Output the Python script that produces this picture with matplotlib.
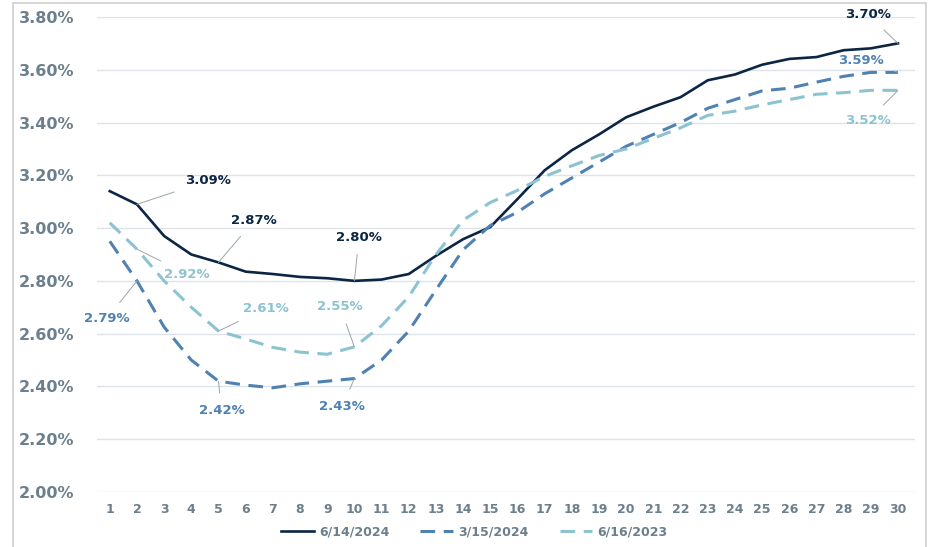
import matplotlib
matplotlib.use("Agg")
import matplotlib.pyplot as plt
from matplotlib.patches import Rectangle

# data (values in %)
maturities = list(range(1, 31))
jun_2024 = [3.14, 3.09, 2.97, 2.90, 2.87, 2.835, 2.826, 2.815, 2.81, 2.80,
            2.805, 2.826, 2.895, 2.958, 3.004, 3.11, 3.219, 3.295, 3.355, 3.42,
            3.46, 3.496, 3.56, 3.582, 3.619, 3.641, 3.648, 3.674, 3.681, 3.70]
mar_2024 = [2.95, 2.80, 2.625, 2.50, 2.42, 2.405, 2.395, 2.41, 2.42, 2.43,
            2.50, 2.61, 2.766, 2.918, 3.01, 3.06, 3.13, 3.19, 3.25, 3.31,
            3.355, 3.40, 3.454, 3.487, 3.52, 3.53, 3.553, 3.575, 3.59, 3.59]
jun_2023 = [3.02, 2.92, 2.80, 2.70, 2.61, 2.58, 2.548, 2.53, 2.522, 2.55,
            2.63, 2.74, 2.90, 3.03, 3.097, 3.143, 3.196, 3.236, 3.275, 3.30,
            3.34, 3.38, 3.427, 3.443, 3.467, 3.487, 3.507, 3.513, 3.522, 3.522]
series_names = ["6/14/2024", "3/15/2024", "6/16/2023"]
y_ticks = [2.0, 2.2, 2.4, 2.6, 2.8, 3.0, 3.2, 3.4, 3.6, 3.8]

NAVY = "#0b2545"
BLUE = "#4f81b3"
TEAL = "#8cc3d0"
GREY = "#6b7f8c"
LEADER = "#9aa5ad"

plt.rcParams["font.family"] = ["DejaVu Sans"]

fig = plt.figure(figsize=(9.3, 5.47), dpi=100)
ax = fig.add_axes([0.104, 0.1005, 0.88, 0.8685])

ax.plot(maturities, jun_2024, color=NAVY, lw=1.9, label=series_names[0])
ax.plot(maturities, mar_2024, color=BLUE, lw=2.2, dashes=(4.8, 2.8), label=series_names[1])
ax.plot(maturities, jun_2023, color=TEAL, lw=2.2, dashes=(4.8, 2.8), label=series_names[2])

ax.set_xlim(0.52, 30.63)
ax.set_ylim(2.0, 3.8)
ax.set_xticks(maturities)
ax.set_yticks(y_ticks)
ax.set_yticklabels([f"{v:.2f}%" for v in y_ticks])
ax.grid(axis="y", color="#dde3e8", lw=1.0)
ax.set_axisbelow(True)
for s in ax.spines.values():
    s.set_visible(False)
ax.tick_params(length=0)
ax.tick_params(axis="y", labelsize=11.5, labelcolor=GREY, pad=16)
ax.tick_params(axis="x", labelsize=9, labelcolor=GREY, pad=8)
for lab in ax.get_xticklabels() + ax.get_yticklabels():
    lab.set_fontweight("bold")

# data labels with leader lines: (series, day, text position, colour)
all_series = [jun_2024, mar_2024, jun_2023]
labels = [
    (0, 2, (4.6, 3.179), NAVY),
    (0, 5, (6.3, 3.028), NAVY),
    (0, 10, (10.17, 2.966), NAVY),
    (0, 30, (28.9, 3.808), NAVY),
    (1, 2, (0.9, 2.658), BLUE),
    (1, 5, (5.11, 2.308), BLUE),
    (1, 10, (9.56, 2.325), BLUE),
    (1, 30, (28.64, 3.635), BLUE),
    (2, 2, (3.85, 2.826), TEAL),
    (2, 5, (6.73, 2.695), TEAL),
    (2, 10, (9.47, 2.702), TEAL),
    (2, 30, (28.9, 3.408), TEAL),
]
label_texts = ["3.09%", "2.87%", "2.80%", "3.70%",
               "2.79%", "2.42%", "2.43%", "3.59%",
               "2.92%", "2.61%", "2.55%", "3.52%"]
for (k, day, pos, col), txt in zip(labels, label_texts):
    ax.annotate(txt, xy=(day, all_series[k][day - 1]), xytext=pos,
                ha="center", va="center", fontsize=9.5, fontweight="bold", color=col,
                arrowprops=dict(arrowstyle="-", color=LEADER, lw=0.7,
                                shrinkA=6, shrinkB=0))

handles, names = ax.get_legend_handles_labels()
leg = fig.legend(handles, names, loc="center", bbox_to_anchor=(0.51, 0.027), ncol=3,
                 frameon=False, fontsize=9, handlelength=2.6, columnspacing=2.5,
                 handletextpad=0.4)
for t in leg.get_texts():
    t.set_color(GREY)
    t.set_fontweight("bold")

fig.patches.append(Rectangle((0.014, -0.01), 0.982, 1.004, transform=fig.transFigure,
                             fill=False, edgecolor="#d0d0d0", lw=1.2))

fig.savefig("out.png", dpi=100)
